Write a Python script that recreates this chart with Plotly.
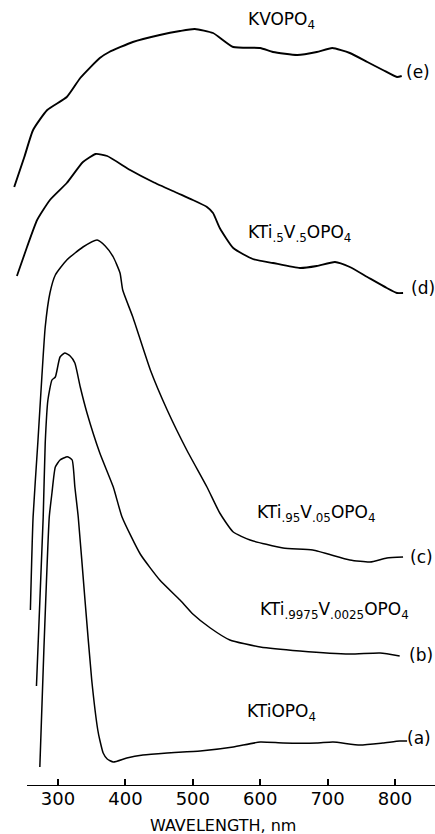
import plotly.graph_objects as go

# Wavelength (nm) and offset absorbance (arbitrary units)
wl_e = [235, 250, 263, 284, 313, 333, 362, 376, 411, 451, 481, 503, 530, 560, 600, 619, 655, 684, 707, 733, 759, 782, 803, 810]
ab_e = [599, 629, 656, 676, 689, 708, 728, 734, 744, 751, 755, 757, 753, 739, 738, 734, 731, 734, 738, 733, 724, 716, 709, 710]

wl_d = [239, 254, 269, 288, 313, 337, 356, 373, 407, 441, 477, 500, 521, 530, 540, 560, 589, 619, 659, 684, 711, 733, 759, 788, 803, 812]
ab_d = [510, 539, 566, 586, 603, 624, 632, 630, 616, 604, 593, 586, 579, 573, 558, 538, 527, 523, 518, 520, 524, 519, 509, 498, 493, 493]

wl_c = [259, 263, 270, 276, 281, 288, 296, 313, 337, 358, 370, 382, 392, 396, 411, 437, 462, 491, 521, 540, 560, 585, 634, 678, 733, 763, 788, 812]
ab_c = [176, 269, 343, 409, 459, 493, 511, 526, 539, 546, 540, 529, 513, 496, 469, 416, 376, 336, 299, 273, 254, 246, 238, 236, 226, 224, 228, 229]

wl_b = [268, 278, 281, 285, 291, 296, 303, 310, 318, 325, 333, 343, 362, 382, 395, 422, 451, 481, 500, 526, 555, 600, 659, 733, 778, 807]
ab_b = [100, 269, 343, 386, 406, 409, 429, 433, 430, 423, 399, 373, 333, 299, 269, 232, 206, 186, 172, 158, 146, 139, 135, 132, 133, 130]

wl_a = [273, 279, 287, 291, 296, 303, 312, 315, 321, 325, 330, 340, 350, 359, 362, 367, 373, 382, 402, 426, 462, 511, 560, 600, 634, 684, 708, 748, 782, 807, 818]
ab_a = [19, 136, 269, 293, 319, 326, 329, 329, 326, 299, 269, 186, 106, 56, 46, 33, 27, 24, 28, 31, 33, 35, 39, 44, 43, 43, 44, 41, 43, 45, 45]

tick_vals = [300, 400, 500, 600, 700, 800]
tick_text = ["300", "400", "500", "600", "700", "800"]

FONT = "DejaVu Sans"

fig = go.Figure()
for wl, ab, w in [(wl_e, ab_e, 1.9), (wl_d, ab_d, 1.8), (wl_c, ab_c, 1.5), (wl_b, ab_b, 1.5), (wl_a, ab_a, 1.5)]:
    fig.add_trace(go.Scatter(x=wl, y=ab, mode="lines",
                             line=dict(color="black", width=w, shape="spline", smoothing=0.5),
                             showlegend=False, hoverinfo="skip"))

labels = [
    ("KVOPO<sub>4</sub>", 632, 766),
    ("(e)", 834, 714),
    ("KTi<sub>.5</sub>V<sub>.5</sub>OPO<sub>4</sub>", 659, 553),
    ("(d)", 842, 498),
    ("KTi<sub>.95</sub>V<sub>.05</sub>OPO<sub>4</sub>", 683, 273),
    ("(c)", 839, 229),
    ("KTi<sub>.9975</sub>V<sub>.0025</sub>OPO<sub>4</sub>", 711, 176),
    ("(b)", 839, 131),
    ("KTiOPO<sub>4</sub>", 632, 74),
    ("(a)", 836, 48),
]
for txt, x, y in labels:
    fig.add_annotation(x=x, y=y, xref="x", yref="y", text=txt, showarrow=False,
                       font=dict(family=FONT, size=17, color="black"))

fig.add_annotation(x=545, y=0, xref="x", yref="y", yshift=-39, text="WAVELENGTH, nm",
                   showarrow=False, font=dict(family=FONT, size=16, color="black"))

fig.add_shape(type="line", x0=254, x1=860, y0=0, y1=0, xref="x", yref="y",
              line=dict(color="black", width=1.8))

fig.update_layout(
    width=435, height=834,
    margin=dict(l=0, r=0, t=0, b=48),
    paper_bgcolor="white", plot_bgcolor="white",
    xaxis=dict(range=[213.9, 859.4], showgrid=False, zeroline=False, showline=False,
               tickmode="array", tickvals=tick_vals, ticktext=tick_text,
               ticks="inside", ticklen=7, tickwidth=1.5, tickcolor="black",
               tickfont=dict(family=FONT, size=18, color="black")),
    yaxis=dict(range=[0, 786], visible=False),
)

fig.write_html("out.html", config={"displayModeBar": False},
               post_script="document.body.style.margin='0';document.body.style.overflow='hidden';")
